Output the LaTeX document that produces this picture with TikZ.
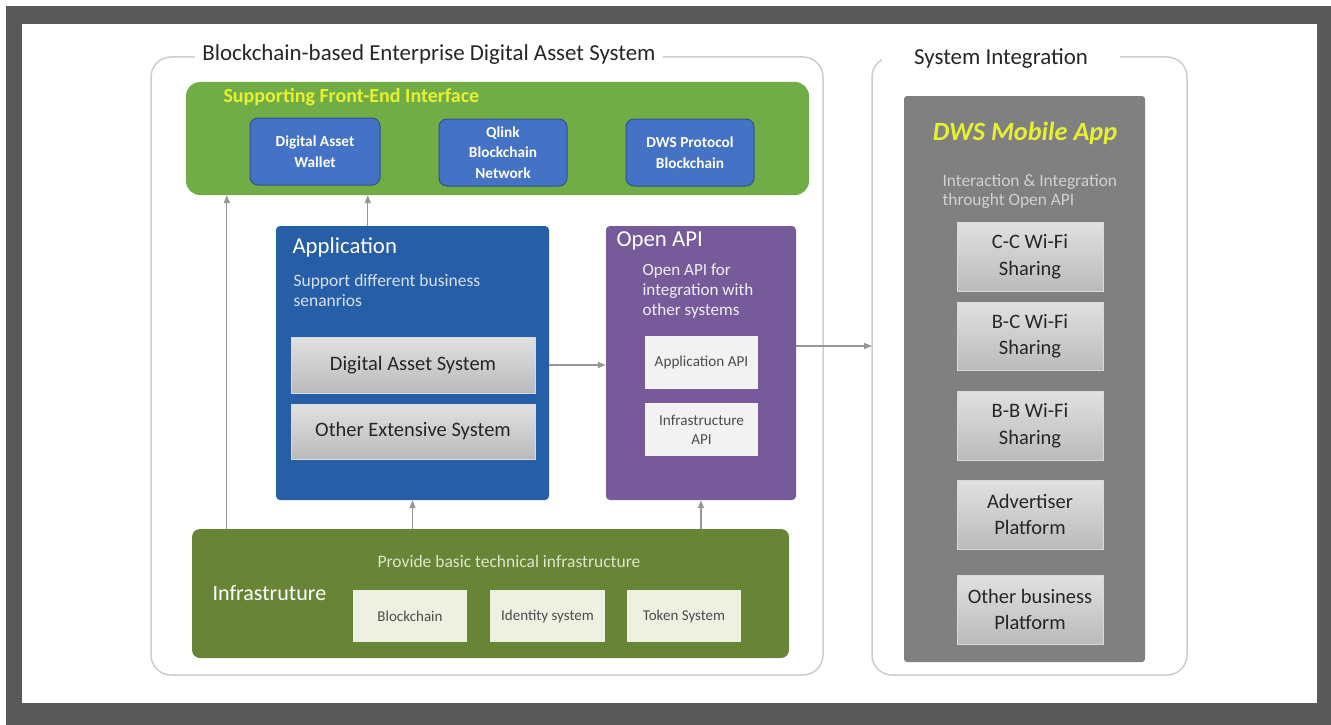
\documentclass[tikz,border=0pt]{standalone}
\usepackage{fontspec}
\setmainfont{Carlito}
\usepackage{tikz}
\usetikzlibrary{positioning,arrows.meta,calc}

\definecolor{frameGray}{RGB}{89,89,89}
\definecolor{grpLine}{RGB}{205,205,205}
\definecolor{frontGreen}{RGB}{112,173,71}
\definecolor{titleYellow}{RGB}{232,240,50}
\definecolor{chainBlue}{RGB}{68,114,196}
\definecolor{chainEdge}{RGB}{47,82,143}
\definecolor{appBlue}{RGB}{38,94,168}
\definecolor{apiPurple}{RGB}{118,90,154}
\definecolor{infraOlive}{RGB}{104,133,55}
\definecolor{infraLight}{RGB}{238,240,226}
\definecolor{infraText}{RGB}{220,230,200}
\definecolor{dwsGray}{RGB}{128,128,128}
\definecolor{arrGray}{RGB}{150,150,150}
\definecolor{softText}{RGB}{215,225,240}

\begin{document}
\begin{tikzpicture}[x=1pt, y=-1pt, font=\fontsize{17}{20}\selectfont, >={Triangle[length=8pt,width=6pt]}]

\tikzset{
  grpframe/.style={draw=grpLine, line width=1.5pt, rounded corners=20pt},
  grptitle/.style={fill=white, inner xsep=7pt, font=\fontsize{22.9}{26}\selectfont, text=black!85},
  chainbox/.style={draw=chainEdge, line width=1pt, fill=chainBlue, rounded corners=8pt, text=white,
                   align=center, font=\bfseries\fontsize{15.3}{20.5}\selectfont},
  graybox/.style={top color=black!12, bottom color=black!27, draw=black!15, align=center,
                  text=black!85, font=\fontsize{20.5}{26.5}\selectfont},
  apibox/.style={fill=black!5, align=center, text=black!70, font=\fontsize{15.2}{19}\selectfont},
  infrabox/.style={fill=infraLight, align=center, text=black!70, font=\fontsize{15}{19}\selectfont},
  arr/.style={->, draw=arrGray, line width=1.3pt}
}

% frame of the screenshot
\fill[white] (0,0) rectangle (1331,725);
\fill[frameGray] (6,6) rectangle (1331,725);
\fill[white] (22,24) rectangle (1317,703);
\useasboundingbox (0,0) rectangle (1331,725);

% groups
\draw[grpframe] (151,57) rectangle (823,675);
\node[grptitle] (sysT) at (429,55) {Blockchain-based Enterprise Digital Asset System};
\draw[grpframe] (872,57) rectangle (1187,675);
\node[grptitle, inner xsep=32pt] (intT) at (1001,59) {System Integration};

% front-end layer
\node[fill=frontGreen, rounded corners=14pt, minimum width=623pt, minimum height=113pt] (front) at (497.5,138.5) {};
\node[anchor=west, text=titleYellow, font=\bfseries\fontsize{20}{23}\selectfont] (frontT) at (220,97) {Supporting Front-End Interface};
\node[chainbox, minimum width=130pt, minimum height=67pt] (wallet) at (315,151.5) {Digital Asset\\Wallet};
\node[chainbox, minimum width=128pt, minimum height=67pt] (qlink)  at (503,152.5) {Qlink\\Blockchain\\Network};
\node[chainbox, minimum width=128pt, minimum height=67pt] (dwsp)   at (690,152.5) {DWS Protocol\\Blockchain};

% application
\node[fill=appBlue, rounded corners=4pt, minimum width=273pt, minimum height=274pt] (app) at (412.5,363) {};
\node[anchor=west, text=white, font=\fontsize{22.8}{26}\selectfont] (appT) at (289,247) {Application};
\node[anchor=north west, text=softText, align=left, font=\fontsize{17.5}{20}\selectfont] (appS) at (290,271) {Support different business\\senanrios};
\node[graybox, minimum width=244pt, minimum height=56pt] (das) at (413,365) {Digital Asset System};
\node[graybox, minimum width=244pt, minimum height=55pt] (oes) at (413,431.5) {Other Extensive System};

% open api
\node[fill=apiPurple, rounded corners=4pt, minimum width=190pt, minimum height=274pt] (api) at (701,363) {};
\node[anchor=west, text=white, font=\fontsize{22.8}{26}\selectfont] (apiT) at (613,241) {Open API};
\node[anchor=north west, text=white!90!apiPurple, align=left, font=\fontsize{17.1}{20}\selectfont] (apiS) at (639,260) {Open API for\\integration with\\other systems};
\node[apibox, minimum width=113pt, minimum height=53pt] (appapi) at (701.5,362.5) {Application API};
\node[apibox, minimum width=113pt, minimum height=53pt] (infapi) at (701.5,429.5) {Infrastructure\\API};

% infrastructure
\node[fill=infraOlive, rounded corners=8pt, minimum width=597pt, minimum height=129pt] (infra) at (490.5,593.5) {};
\node[text=infraText, font=\fontsize{17.5}{20}\selectfont] (infraS) at (509,561) {Provide basic technical infrastructure};
\node[anchor=west, text=white, font=\fontsize{22}{26}\selectfont] (infraT) at (209,593) {Infrastruture};
\node[infrabox, minimum width=114pt, minimum height=52pt] (chain) at (410,616) {Blockchain};
\node[infrabox, minimum width=115pt, minimum height=52pt] (ident) at (547.5,616) {Identity system};
\node[infrabox, minimum width=114pt, minimum height=52pt] (token) at (684,616) {Token System};

% system integration
\node[fill=dwsGray, rounded corners=3pt, minimum width=241pt, minimum height=566pt] (dws) at (1024.5,379) {};
\node[text=titleYellow, font=\bfseries\itshape\fontsize{26.3}{30}\selectfont] (dwsT) at (1025,133) {DWS Mobile App};
\node[anchor=north west, text=black!18, align=left, font=\fontsize{17.4}{19}\selectfont] (dwsS) at (939,171) {Interaction \& Integration\\throught Open API};
\node[graybox, minimum width=146pt, minimum height=69pt] (cc)  at (1030,256.5) {C-C Wi-Fi\\Sharing};
\node[graybox, minimum width=146pt, minimum height=68pt] (bc)  at (1030,336)   {B-C Wi-Fi\\Sharing};
\node[graybox, minimum width=146pt, minimum height=69pt] (bb)  at (1030,425.5) {B-B Wi-Fi\\Sharing};
\node[graybox, minimum width=146pt, minimum height=69pt] (adv) at (1030,514.5) {Advertiser\\Platform};
\node[graybox, minimum width=146pt, minimum height=69pt] (oth) at (1030,609.5) {Other business\\Platform};

% connectors
\draw[arr] ([xshift=35pt]infra.north west) -- ([xshift=35pt]infra.north west |- front.south);
\draw[arr] ([xshift=92pt]app.north west) -- ([xshift=92pt]app.north west |- front.south);
\draw[arr] (infra.north -| app.south) -- (app.south);
\draw[arr] (infra.north -| api.south) -- (api.south);
\draw[arr] (app.east |- das) -- (api.west |- das);
\coordinate (sysin) at (872,346);
\draw[arr] (api.east |- sysin) -- (sysin);

\end{tikzpicture}
\end{document}
